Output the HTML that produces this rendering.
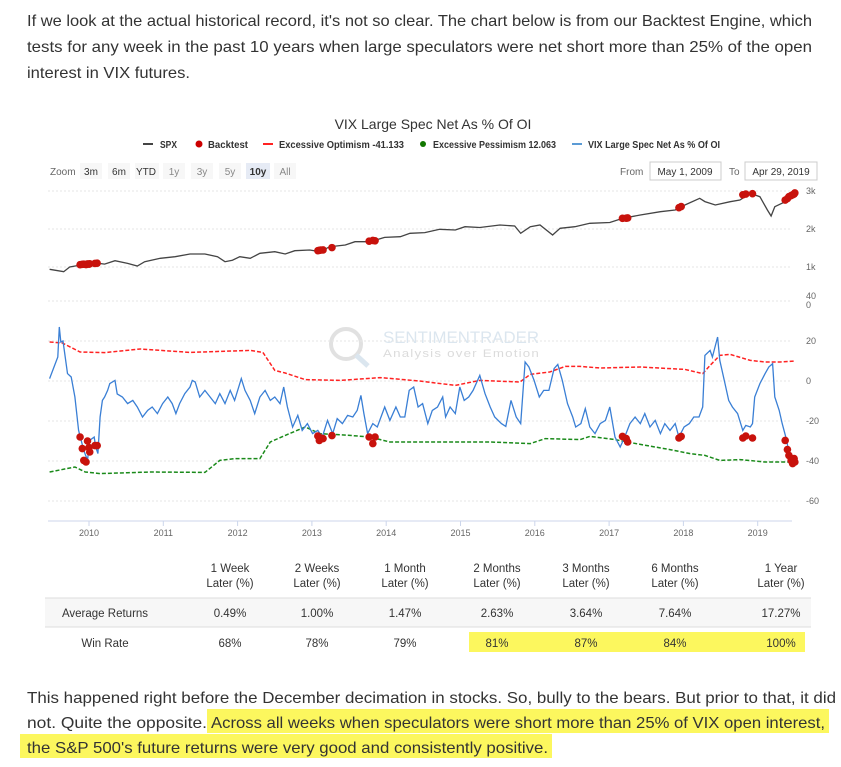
<!DOCTYPE html>
<html><head><meta charset="utf-8"><style>
html,body{margin:0;padding:0;background:#fff;}
svg{display:block;font-family:"Liberation Sans",sans-serif;}
</style></head><body>
<svg id="root" width="841" height="767" viewBox="0 0 841 767">
<g fill="#333" font-size="16">
<text x="27" y="26" textLength="785" lengthAdjust="spacingAndGlyphs">If we look at the actual historical record, it's not so clear. The chart below is from our Backtest Engine, which</text>
<text x="27" y="52" textLength="785" lengthAdjust="spacingAndGlyphs">tests for any week in the past 10 years when large speculators were net short more than 25% of the open</text>
<text x="27" y="78" textLength="163" lengthAdjust="spacingAndGlyphs">interest in VIX futures.</text>
</g>
<text x="433" y="129" text-anchor="middle" font-size="14" fill="#333">VIX Large Spec Net As % Of OI</text>
<g id="legend" font-size="10" fill="#333" font-weight="bold">
<g><line x1="143" y1="144" x2="153" y2="144" stroke="#444" stroke-width="2"/><text x="160" y="148" textLength="17" lengthAdjust="spacingAndGlyphs">SPX</text></g>
<g><circle cx="199" cy="144" r="3.5" fill="#c00"/><text x="208" y="148" textLength="40" lengthAdjust="spacingAndGlyphs">Backtest</text></g>
<g><line x1="263" y1="144" x2="273" y2="144" stroke="#f22" stroke-width="2"/><text x="279" y="148" textLength="125" lengthAdjust="spacingAndGlyphs">Excessive Optimism -41.133</text></g>
<g><circle cx="423" cy="144" r="3" fill="#170"/><text x="433" y="148" textLength="123" lengthAdjust="spacingAndGlyphs">Excessive Pessimism 12.063</text></g>
<g><line x1="572" y1="144" x2="582" y2="144" stroke="#5b9bd5" stroke-width="2"/><text x="588" y="148" textLength="132" lengthAdjust="spacingAndGlyphs">VIX Large Spec Net As % Of OI</text></g>
</g>
<g font-size="10" fill="#333">
<text x="50" y="175" fill="#666">Zoom</text>
<rect x="80" y="163" width="22" height="16" fill="#f7f7f7"/><text x="91" y="175" text-anchor="middle">3m</text>
<rect x="108" y="163" width="22" height="16" fill="#f7f7f7"/><text x="119" y="175" text-anchor="middle">6m</text>
<rect x="135" y="163" width="24" height="16" fill="#f7f7f7"/><text x="146" y="175" text-anchor="middle">YTD</text>
<rect x="163" y="163" width="22" height="16" fill="#f7f7f7"/><text x="174" y="175" text-anchor="middle" fill="#888">1y</text>
<rect x="191" y="163" width="22" height="16" fill="#f7f7f7"/><text x="202" y="175" text-anchor="middle" fill="#888">3y</text>
<rect x="219" y="163" width="22" height="16" fill="#f7f7f7"/><text x="230" y="175" text-anchor="middle" fill="#888">5y</text>
<rect x="246" y="163" width="24" height="16" fill="#e6ebf5"/><text x="258" y="175" text-anchor="middle" font-weight="bold">10y</text>
<rect x="274" y="163" width="22" height="16" fill="#f7f7f7"/><text x="285" y="175" text-anchor="middle" fill="#888">All</text>
<text x="620" y="175" fill="#666">From</text>
<rect x="650" y="162" width="71" height="18" fill="#fff" stroke="#ccc"/><text x="685" y="175" text-anchor="middle">May 1, 2009</text>
<text x="729" y="175" fill="#666">To</text>
<rect x="745" y="162" width="72" height="18" fill="#fff" stroke="#ccc"/><text x="781" y="175" text-anchor="middle">Apr 29, 2019</text>
</g>
<g opacity="0.35">
<circle cx="346" cy="344" r="15" fill="none" stroke="#aaa" stroke-width="4"/>
<line x1="356" y1="355" x2="368" y2="366" stroke="#9bb8d3" stroke-width="5"/>
<text x="383" y="343" font-size="17" fill="#9bb8d3" textLength="156" lengthAdjust="spacingAndGlyphs">SENTIMENTRADER</text>
<text x="383" y="357" font-size="11" fill="#999" textLength="157" lengthAdjust="spacingAndGlyphs" letter-spacing="1">Analysis over Emotion</text>
</g>
<g id="grid"></g>
<g id="plots"></g>
<g id="axes" font-size="9" fill="#666"></g>
<g font-size="11.5" fill="#333" text-anchor="middle">
<g>
<text x="230" y="572">1 Week</text><text x="230" y="587">Later (%)</text>
<text x="317" y="572">2 Weeks</text><text x="317" y="587">Later (%)</text>
<text x="405" y="572">1 Month</text><text x="405" y="587">Later (%)</text>
<text x="497" y="572">2 Months</text><text x="497" y="587">Later (%)</text>
<text x="586" y="572">3 Months</text><text x="586" y="587">Later (%)</text>
<text x="675" y="572">6 Months</text><text x="675" y="587">Later (%)</text>
<text x="781" y="572">1 Year</text><text x="781" y="587">Later (%)</text>
</g>
<rect x="45" y="598" width="766" height="29" fill="#f7f7f7"/>
<line x1="45" y1="598" x2="811" y2="598" stroke="#ddd"/>
<line x1="45" y1="627" x2="811" y2="627" stroke="#ddd"/>
<text x="105" y="617">Average Returns</text>
<text x="230" y="617">0.49%</text><text x="317" y="617">1.00%</text><text x="405" y="617">1.47%</text><text x="497" y="617">2.63%</text><text x="586" y="617">3.64%</text><text x="675" y="617">7.64%</text><text x="781" y="617">17.27%</text>
<rect x="469" y="632" width="336" height="20" fill="#fcf75e"/>
<text x="105" y="647">Win Rate</text>
<text x="230" y="647">68%</text><text x="317" y="647">78%</text><text x="405" y="647">79%</text><text x="497" y="647">81%</text><text x="586" y="647">87%</text><text x="675" y="647">84%</text><text x="781" y="647">100%</text>
</g>
<g fill="#333" font-size="16">
<rect x="207" y="709" width="622" height="24" fill="#fcf75e"/>
<rect x="20" y="734" width="532" height="24" fill="#fcf75e"/>
<text x="27" y="703" textLength="809" lengthAdjust="spacingAndGlyphs">This happened right before the December decimation in stocks. So, bully to the bears. But prior to that, it did</text>
<text x="27" y="728" textLength="180" lengthAdjust="spacingAndGlyphs">not. Quite the opposite.</text>
<text x="211" y="728" textLength="614" lengthAdjust="spacingAndGlyphs">Across all weeks when speculators were short more than 25% of VIX open interest,</text>
<text x="27" y="753" textLength="521" lengthAdjust="spacingAndGlyphs">the S&amp;P 500's future returns were very good and consistently positive.</text>
</g>
</svg>
<script>
const spxDates=[2009.47,2009.66,2009.74,2009.88,2010.08,2010.21,2010.35,2010.52,2010.65,2010.75,2010.96,2011.16,2011.36,2011.56,2011.73,2011.83,2011.93,2012.03,2012.17,2012.30,2012.50,2012.64,2012.77,2012.97,2013.11,2013.24,2013.45,2013.58,2013.78,2013.98,2014.19,2014.32,2014.52,2014.72,2014.93,2015.06,2015.26,2015.53,2015.73,2015.81,2015.94,2016.07,2016.24,2016.34,2016.54,2016.74,2017.01,2017.18,2017.42,2017.69,2017.89,2018.02,2018.22,2018.29,2018.43,2018.63,2018.76,2018.90,2019.03,2019.13,2019.18,2019.23,2019.37,2019.47];
const spxValues=[940,877,1000,1050,1110,1075,1165,1096,1026,1140,1228,1272,1342,1342,1272,1140,1180,1272,1228,1360,1403,1342,1430,1447,1403,1535,1579,1667,1667,1780,1798,1886,1904,1991,1974,2061,2040,2105,2079,1886,2061,2105,1842,2018,2061,2149,2170,2280,2368,2456,2500,2632,2807,2720,2632,2719,2763,2939,2850,2500,2342,2588,2719,2956];
const vixDates=[2009.47,2009.58,2009.60,2009.62,2009.65,2009.71,2009.76,2009.81,2009.86,2009.93,2009.98,2010.01,2010.07,2010.09,2010.12,2010.15,2010.18,2010.21,2010.25,2010.28,2010.35,2010.38,2010.45,2010.52,2010.59,2010.65,2010.72,2010.79,2010.85,2010.92,2010.99,2011.06,2011.12,2011.17,2011.22,2011.29,2011.36,2011.39,2011.43,2011.49,2011.56,2011.63,2011.70,2011.76,2011.83,2011.90,2011.96,2012.05,2012.10,2012.17,2012.23,2012.30,2012.37,2012.44,2012.50,2012.57,2012.62,2012.67,2012.74,2012.81,2012.87,2012.94,2013.01,2013.08,2013.14,2013.21,2013.28,2013.34,2013.41,2013.48,2013.55,2013.61,2013.66,2013.70,2013.75,2013.82,2013.88,2013.98,2014.05,2014.13,2014.19,2014.25,2014.31,2014.37,2014.43,2014.49,2014.56,2014.62,2014.69,2014.76,2014.80,2014.86,2014.93,2014.99,2015.05,2015.11,2015.17,2015.26,2015.33,2015.40,2015.46,2015.55,2015.61,2015.68,2015.75,2015.81,2015.87,2015.92,2015.99,2016.06,2016.12,2016.19,2016.26,2016.31,2016.37,2016.44,2016.51,2016.55,2016.62,2016.68,2016.74,2016.81,2016.88,2016.95,2017.01,2017.08,2017.15,2017.21,2017.28,2017.35,2017.42,2017.48,2017.55,2017.62,2017.69,2017.75,2017.82,2017.89,2017.94,2018.01,2018.08,2018.14,2018.21,2018.26,2018.29,2018.36,2018.39,2018.46,2018.49,2018.56,2018.61,2018.66,2018.73,2018.80,2018.84,2018.90,2018.93,2018.96,2019.03,2019.10,2019.15,2019.20,2019.23,2019.29,2019.33,2019.39,2019.43,2019.47];
const vixValues=[1.2,12,27,19.5,20,3.7,2,-8,-24.7,-34.7,-39.7,-29.7,-28,-33,-36.3,-18,-9.7,-8,-4.7,-1.3,0.3,-6.5,-8,-11.3,-9.7,-13,-18,-14.7,-13,-16.3,-11.3,-8,-11.3,-16.3,-11.3,-6.3,-3,0.3,-0.5,-8,-4.7,-8,-11.3,-6.3,-11.3,-4.7,-9.7,1.2,-4.7,-9.7,-16.3,-8,-4.7,-9.7,-8,-11.3,-3,-13,-23,-17.2,-24.7,-21.3,-26.3,-24.7,-28,-19.7,-26.3,-18.8,-21.3,-17.2,-18,-14.7,-7.2,-16.3,-26.3,-21.3,-23,-13,-19.7,-13,-18,-18,-4.7,-3,-13,-11.3,-21.3,-14.7,-13,-8,-18,-13,-16.3,-3,-9.7,-8,-4.7,2.8,-6.3,-13,-18,-21.3,-22.7,-9.7,-18,-21.3,9.5,7,0.3,-8,-4.7,-4.7,6.2,8.3,0.3,-11.3,-18,-23,-21.3,-13.8,-23,-26.3,-21.3,-19.7,-13,-28,-33,-28,-21.3,-18,-21.3,-16.3,-23,-19.7,-26.3,-21.3,-24.7,-21.3,-28,-23,-21.3,-18,-18,-13,12.8,15.3,12,22,10.3,-1.3,-9.7,-13,-16.3,-24.7,-22.2,-23,-21.3,-8,-1.3,3.7,7,8.7,-8,-14.7,-21.3,-29.7,-38,-43];
const optDates=[2009.47,2009.64,2009.88,2010.21,2010.69,2011.36,2012.17,2012.34,2012.50,2012.64,2012.91,2013.38,2013.92,2014.45,2014.93,2015.26,2015.80,2015.94,2016.20,2016.41,2016.61,2016.88,2017.42,2018.02,2018.26,2018.36,2018.49,2018.63,2018.90,2019.10,2019.30,2019.50];
const optValues=[19.5,19,14.5,14.2,16,14.3,15.3,14.3,5.3,4,0.7,0.3,1.7,0,-2.2,0.3,-0.5,3.3,4.5,7.3,7.3,6.5,7,5.8,3.7,7.8,12.8,13.3,10.3,9.5,9.5,10];
const pesDates=[2009.47,2009.81,2009.95,2010.15,2010.82,2011.56,2011.76,2011.96,2012.30,2012.44,2012.64,2012.91,2013.11,2013.51,2013.78,2014.05,2015.40,2015.94,2016.14,2016.61,2016.74,2017.08,2017.42,2017.82,2018.09,2018.29,2018.49,2018.76,2019.10,2019.43];
const pesValues=[-45.5,-43,-45.5,-46.3,-45.5,-45.7,-39.7,-38.8,-38.8,-30.5,-27.2,-23,-26.3,-27.2,-28,-30.5,-30.5,-31.3,-28.8,-29.3,-27.7,-29.3,-31.7,-34.3,-36.3,-37.2,-39.7,-39.3,-40.5,-40.5];
const btDates=[2009.88,2009.91,2009.93,2009.96,2009.98,2010.00,2010.01,2010.08,2010.11,2013.08,2013.10,2013.12,2013.15,2013.27,2013.77,2013.82,2013.85,2017.18,2017.23,2017.25,2017.94,2017.97,2018.80,2018.84,2018.93,2019.37,2019.40,2019.42,2019.45,2019.47,2019.49,2019.50];
const btVix=[-28,-33.8,-39.7,-40.5,-30,-33.3,-35.5,-32.3,-32.3,-27.5,-29.7,-28.5,-28.8,-27.3,-28,-31.3,-28,-27.7,-28.8,-30.5,-28.5,-27.7,-28.5,-27.5,-28.5,-29.7,-34.3,-37.2,-39.7,-41.3,-38.8,-40.5];
const btSpx=[1060,1070,1075,1065,1080,1075,1085,1095,1100,1430,1440,1445,1450,1510,1680,1700,1690,2280,2285,2290,2560,2590,2900,2920,2930,2760,2800,2850,2880,2900,2920,2950];
const yearLabels=[2010,2011,2012,2013,2014,2015,2016,2017,2018,2019];
const spxTicks=[1000,2000,3000];
const spxTickLabels=["1k","2k","3k"];
const vixTicks=[40,20,0,-20,-40,-60];

const NS="http://www.w3.org/2000/svg";
const X0=48,X1=792;
function x(t){return 89+(t-2010)*74.3;}
function ySpx(v){return 305-v*0.038;}
function yVix(v){return 381-v*2;}
function mk(tag,attrs,parent){const e=document.createElementNS(NS,tag);for(const k in attrs)e.setAttribute(k,attrs[k]);parent.appendChild(e);return e;}
const grid=document.getElementById('grid'),plots=document.getElementById('plots'),axes=document.getElementById('axes');
spxTicks.forEach((v,i)=>{
  const l=mk('line',{x1:X0,x2:X1,y1:ySpx(v),y2:ySpx(v),stroke:'#e6e6e6','stroke-dasharray':'2,2'},grid);
  
  
  const t=mk('text',{x:806,y:ySpx(v)+3},axes);t.textContent=spxTickLabels[i];
  
  
});
const z=mk('text',{x:806,y:ySpx(0)+3},axes);z.textContent="0";


vixTicks.forEach(v=>{
  const l=mk('line',{x1:X0,x2:X1,y1:yVix(v),y2:yVix(v),stroke:'#e6e6e6','stroke-dasharray':'2,2'},grid);
  
  
  const t=mk('text',{x:806,y:(v===40?yVix(v)-2:yVix(v)+3)},axes);t.textContent=v;
  
  
});
const ax=mk('line',{x1:X0,x2:X1,y1:521,y2:521,stroke:'#ccd6eb'},axes);


yearLabels.forEach(yr=>{
  const tk=mk('line',{x1:x(yr),x2:x(yr),y1:521,y2:526,stroke:'#ccd6eb'},axes);
  
  
  const t=mk('text',{x:x(yr),y:536,'text-anchor':'middle'},axes);t.textContent=yr;
  
  
});
function path(ds,vs,fy){return ds.map((d,i)=>(i?'L':'M')+x(d).toFixed(1)+','+fy(vs[i]).toFixed(1)).join('');}
const opt=mk('path',{d:path(optDates,optValues,yVix),fill:'none',stroke:'#f22','stroke-width':1.5,'stroke-dasharray':'4,2'},plots);


const pes=mk('path',{d:path(pesDates,pesValues,yVix),fill:'none',stroke:'#1a8a1a','stroke-width':1.5,'stroke-dasharray':'4,2'},plots);


const vx=mk('path',{d:path(vixDates,vixValues,yVix),fill:'none',stroke:'#3a7fd5','stroke-width':1.3},plots);


const sp=mk('path',{d:path(spxDates,spxValues,ySpx),fill:'none',stroke:'#444','stroke-width':1.3},plots);


btDates.forEach((d,i)=>{
  const c1=mk('circle',{cx:x(d),cy:yVix(btVix[i]),r:3.8,fill:'#c8120c'},plots);
  
  
  const c2=mk('circle',{cx:x(d),cy:ySpx(btSpx[i]),r:3.8,fill:'#c8120c'},plots);
  
  
});
</script>
</body></html>
